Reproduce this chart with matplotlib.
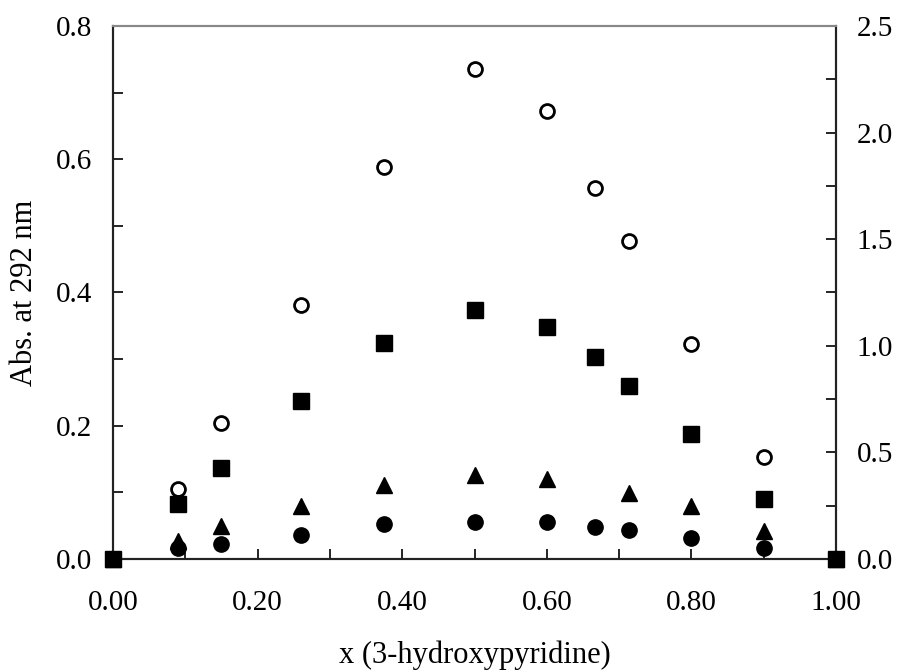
import numpy as np
import matplotlib.pyplot as plt
from matplotlib.ticker import MultipleLocator, FormatStrFormatter

plt.rcParams['font.family'] = ['Liberation Serif', 'DejaVu Serif']

# mole fraction of 3-hydroxypyridine
x = [0.0, 0.09, 0.15, 0.26, 0.375, 0.5, 0.6, 0.667, 0.714, 0.8, 0.9, 1.0]

# open circles (right axis)
abs_open = [0.0, 0.33, 0.64, 1.19, 1.84, 2.30, 2.10, 1.74, 1.49, 1.01, 0.48, 0.0]
# filled squares (left axis)
abs_sq = [0.0, 0.082, 0.136, 0.237, 0.324, 0.373, 0.348, 0.303, 0.259, 0.187, 0.090, 0.0]
# filled triangles (no point at 0.667)
x_tri = [0.0, 0.09, 0.15, 0.26, 0.375, 0.5, 0.6, 0.714, 0.8, 0.9, 1.0]
abs_tri = [0.0, 0.027, 0.050, 0.080, 0.111, 0.126, 0.120, 0.099, 0.079, 0.042, 0.0]
# filled circles
abs_circ = [0.0, 0.016, 0.022, 0.036, 0.053, 0.055, 0.055, 0.048, 0.044, 0.031, 0.017, 0.0]

fs = 21

fig = plt.figure(figsize=(9, 6.72), dpi=100)
ax = fig.add_axes([0.1256, 0.1682, 0.8033, 0.7931])
ax2 = ax.twinx()
# left axis (squares) drawn on top of right axis
ax.set_zorder(ax2.get_zorder() + 1)
ax.patch.set_visible(False)

ax2.plot(x, abs_open, 'o', mfc='white', mec='black', mew=2, ms=10, clip_on=False)
ax.plot(x, abs_circ, 'o', color='black', ms=11, clip_on=False)
ax.plot(x_tri, abs_tri, '^', color='black', ms=12, clip_on=False)
ax.plot(x, abs_sq, 's', color='black', ms=11, clip_on=False, zorder=5)

ax.set_xlim(0, 1)
ax.set_ylim(0, 0.8)
ax2.set_ylim(0, 2.5)

ax.xaxis.set_major_locator(MultipleLocator(0.2))
ax.xaxis.set_minor_locator(MultipleLocator(0.1))
ax.xaxis.set_major_formatter(FormatStrFormatter('%.2f'))
ax.yaxis.set_major_locator(MultipleLocator(0.2))
ax.yaxis.set_minor_locator(MultipleLocator(0.1))
ax.yaxis.set_major_formatter(FormatStrFormatter('%.1f'))
ax2.yaxis.set_major_locator(MultipleLocator(0.5))
ax2.yaxis.set_minor_locator(MultipleLocator(0.25))
ax2.yaxis.set_major_formatter(FormatStrFormatter('%.1f'))

ax.tick_params(axis='x', which='both', direction='in', length=7, width=1.2, labelsize=fs, pad=22)
ax.tick_params(axis='y', which='both', direction='in', length=7, width=1.2, labelsize=fs, pad=15)
ax2.tick_params(axis='y', which='both', direction='in', length=7, width=1.2, labelsize=fs, pad=15)

for a in (ax, ax2):
    for s in ('left', 'right', 'bottom'):
        a.spines[s].set_linewidth(1.5)
        a.spines[s].set_color('#222222')
    a.spines['top'].set_color('#888888')
    a.spines['top'].set_linewidth(1.5)

ax.set_xlabel('x (3-hydroxypyridine)', fontsize=22, labelpad=18)
ax.set_ylabel('Abs. at 292 nm', fontsize=22, labelpad=12)

plt.savefig('out.png', dpi=100)
